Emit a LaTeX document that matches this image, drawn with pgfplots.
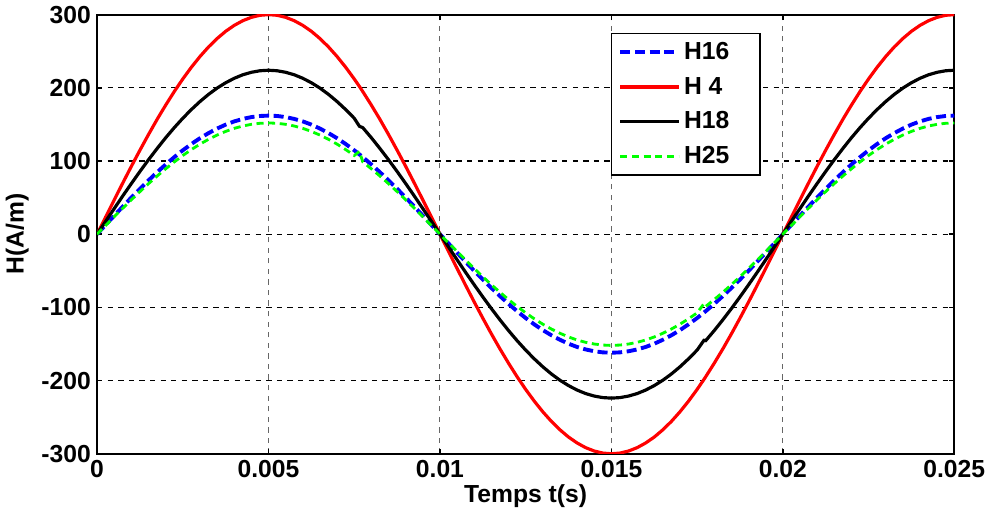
\documentclass[border=0pt]{standalone}
\usepackage{pgfplots}
\pgfplotsset{compat=1.18}
\usepackage{pgfplotstable}
\usepackage{fontspec}
\setmainfont{Liberation Sans}
\newcommand\ff{\fontsize{14}{16}\selectfont\bfseries}
\definecolor{mgreen}{rgb}{0,1,0}

% t  H4  H18  H16  H25
\pgfplotstableread{
t        r      k      b      g
0        0      0      0      0
0.00025  23.5   17.6   12.7   11.9
0.0005   46.9   35.0   25.3   23.8
0.00075  70.0   52.3   37.8   35.5
0.001    92.7   69.2   50.1   47.0
0.00125  114.8  85.7   62.0   58.2
0.0015   136.2  101.7  73.5   69.0
0.00175  156.8  117.0  84.6   79.4
0.002    176.3  131.7  95.2   89.3
0.00225  194.8  145.5  105.2  98.7
0.0025   212.1  158.4  114.6  107.5
0.00275  228.1  170.3  123.2  115.6
0.003    242.7  181.2  131.1  123.0
0.00325  255.8  191.0  138.1  129.6
0.0035   267.3  199.6  144.3  135.4
0.00375  277.2  206.9  149.7  140.4
0.004    285.3  213.0  154.1  144.6
0.00425  291.7  217.8  157.5  147.8
0.0045   296.3  221.2  160.0  150.1
0.00475  299.1  223.3  161.5  151.5
0.005    300    224    162    152
0.00525  299.1  223.3  161.5  151.5
0.0055   296.3  221.2  160.0  150.1
0.00575  291.7  217.8  157.5  147.8
0.006    285.3  213.0  154.1  144.6
0.00625  277.2  206.9  149.7  140.4
0.0065   267.3  199.6  144.3  135.4
0.00675  255.8  191.0  138.1  129.6
0.007    242.7  181.2  131.1  123.0
0.00725  228.1  170.3  123.2  115.6
0.0075   212.1  158.4  114.6  107.5
0.00765  201.9  147.5  109.0  113.0
0.00775  194.8  145.5  105.2  98.7
0.008    176.3  131.7  95.2   89.3
0.00825  156.8  117.0  84.6   79.4
0.0085   136.2  101.7  73.5   69.0
0.00875  114.8  85.7   62.0   58.2
0.009    92.7   69.2   50.1   47.0
0.00925  70.0   52.3   37.8   35.5
0.0095   46.9   35.0   25.3   23.8
0.00975  23.5   17.6   12.7   11.9
0.01     0      0      0      0
0.01025  -23.5  -17.6  -12.7  -11.9
0.0105   -46.9  -35.0  -25.3  -23.8
0.01075  -70.0  -52.3  -37.8  -35.5
0.011    -92.7  -69.2  -50.1  -47.0
0.01125  -114.8 -85.7  -62.0  -58.2
0.0115   -136.2 -101.7 -73.5  -69.0
0.01175  -156.8 -117.0 -84.6  -79.4
0.012    -176.3 -131.7 -95.2  -89.3
0.01225  -194.8 -145.5 -105.2 -98.7
0.0125   -212.1 -158.4 -114.6 -107.5
0.01275  -228.1 -170.3 -123.2 -115.6
0.013    -242.7 -181.2 -131.1 -123.0
0.01325  -255.8 -191.0 -138.1 -129.6
0.0135   -267.3 -199.6 -144.3 -135.4
0.01375  -277.2 -206.9 -149.7 -140.4
0.014    -285.3 -213.0 -154.1 -144.6
0.01425  -291.7 -217.8 -157.5 -147.8
0.0145   -296.3 -221.2 -160.0 -150.1
0.01475  -299.1 -223.3 -161.5 -151.5
0.015    -300   -224   -162   -152
0.01525  -299.1 -223.3 -161.5 -151.5
0.0155   -296.3 -221.2 -160.0 -150.1
0.01575  -291.7 -217.8 -157.5 -147.8
0.016    -285.3 -213.0 -154.1 -144.6
0.01625  -277.2 -206.9 -149.7 -140.4
0.0165   -267.3 -199.6 -144.3 -135.4
0.01675  -255.8 -191.0 -138.1 -129.6
0.017    -242.7 -181.2 -131.1 -123.0
0.01725  -228.1 -170.3 -123.2 -115.6
0.0175   -212.1 -158.4 -114.6 -107.5
0.0177   -198.4 -145.0 -107.1 -95.0
0.01775  -194.8 -145.5 -105.2 -98.7
0.018    -176.3 -131.7 -95.2  -89.3
0.01825  -156.8 -117.0 -84.6  -79.4
0.0185   -136.2 -101.7 -73.5  -69.0
0.01875  -114.8 -85.7  -62.0  -58.2
0.019    -92.7  -69.2  -50.1  -47.0
0.01925  -70.0  -52.3  -37.8  -35.5
0.0195   -46.9  -35.0  -25.3  -23.8
0.01975  -23.5  -17.6  -12.7  -11.9
0.02     0      0      0      0
0.02025  23.5   17.6   12.7   11.9
0.0205   46.9   35.0   25.3   23.8
0.02075  70.0   52.3   37.8   35.5
0.021    92.7   69.2   50.1   47.0
0.02125  114.8  85.7   62.0   58.2
0.0215   136.2  101.7  73.5   69.0
0.02175  156.8  117.0  84.6   79.4
0.022    176.3  131.7  95.2   89.3
0.02225  194.8  145.5  105.2  98.7
0.0225   212.1  158.4  114.6  107.5
0.02275  228.1  170.3  123.2  115.6
0.023    242.7  181.2  131.1  123.0
0.02325  255.8  191.0  138.1  129.6
0.0235   267.3  199.6  144.3  135.4
0.02375  277.2  206.9  149.7  140.4
0.024    285.3  213.0  154.1  144.6
0.02425  291.7  217.8  157.5  147.8
0.0245   296.3  221.2  160.0  150.1
0.02475  299.1  223.3  161.5  151.5
0.025    300    224    162    152
}\data

\begin{document}
\begin{tikzpicture}
\begin{axis}[
    width=17.1cm, height=8.76cm, scale only axis,
    xmin=0, xmax=0.025, ymin=-300, ymax=300,
    xtick={0,0.005,0.01,0.015,0.02,0.025},
    xticklabels={0,0.005,0.01,0.015,0.02,0.025},
    scaled x ticks=false,
    ytick={-300,-200,-100,0,100,200,300},
    yticklabels={-300,-200,-100,0,100,200,300},
    tick label style={font=\ff, black},
    xlabel={Temps t(s)}, ylabel={H(A/m)},
    every axis x label/.style={at={(axis description cs:0.5,-0.096)}, anchor=center, font=\ff},
    every axis y label/.style={at={(axis description cs:-0.093,0.5)}, rotate=90, anchor=center, font=\ff},
    axis line style={black, line width=1.1pt},
    tick align=inside, major tick length=0.1cm,
    tick style={black, line width=0.8pt},
    grid=major,
    major grid style={dash pattern=on 3pt off 3pt, line width=0.6pt, black},
    every axis x grid/.append style={black!60},
    legend style={at={(axis description cs:0.599,0.959)}, anchor=north west,
        draw=black, line width=1pt, font=\ff, fill=white,
        inner xsep=4pt, inner ysep=3pt, row sep=4.5pt},
    legend cell align=left,
    legend image code/.code={\draw[#1] (0cm,0cm) -- (1.16cm,0cm);},
]
\addplot[blue, line width=2.2pt, dash pattern=on 5.7pt off 2.6pt] table[x=t, y=b] {\data};
\addlegendentry{\makebox[1.3cm][l]{H16}}
\addplot[red, line width=1.8pt] table[x=t, y=r] {\data};
\addlegendentry{H 4}
\addplot[black, line width=1.8pt] table[x=t, y=k] {\data};
\addlegendentry{H18}
\addplot[mgreen, line width=1.6pt, dash pattern=on 4pt off 2.6pt] table[x=t, y=g] {\data};
\addlegendentry{H25}
\end{axis}
\end{tikzpicture}
\end{document}
